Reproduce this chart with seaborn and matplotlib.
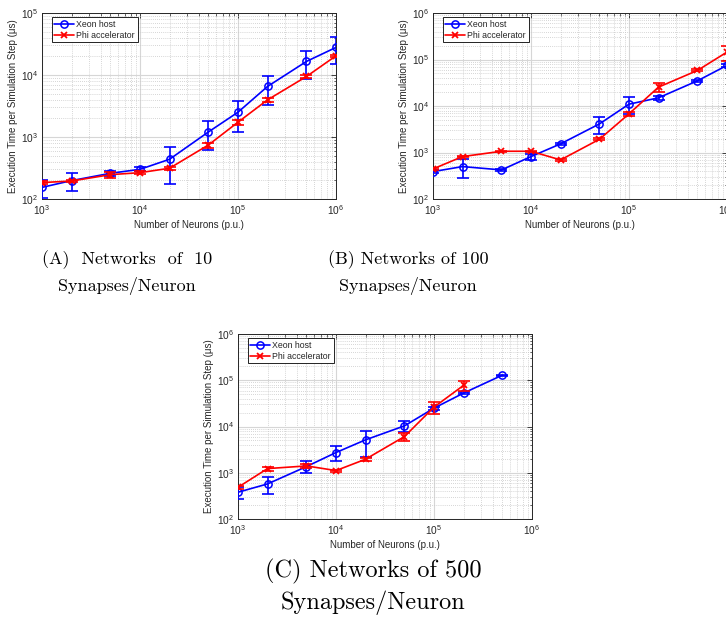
import numpy as np
import pandas as pd
import matplotlib
matplotlib.use("Agg")
import matplotlib.pyplot as plt
import seaborn as sns
from matplotlib.ticker import LogLocator, LogFormatterSciNotation, NullFormatter

# ---------------- data ----------------
neurons = [1e3, 2e3, 5e3, 1e4, 2e4, 5e4, 1e5, 2e5, 5e5, 1e6]

# (A) 10 synapses/neuron
a_xeon = [154, 198, 260, 301, 437, 1208, 2512, 6530, 16560, 27860]
a_xeon_err = [50, 65, 25, 22, 260, 600, 1310, 3200, 7800, 12800]
a_phi = [184, 195, 247, 266, 313, 745, 1733, 3970, 9460, 20400]
a_phi_err = [12, 10, 25, 12, 15, 70, 180, 350, 500, 600]

# (B) 100 synapses/neuron
b_xeon = [388, 498, 422, 817, 1531, 4130, 10950, 14990, 34860, 74700]
b_xeon_err = [30, 215, 30, 110, 80, 1650, 4300, 1200, 2000, 5000]
b_phi = [443, 817, 1064, 1064, 692, 1928, 6780, 25470, 58200, 144500]
b_phi_err = [20, 30, 40, 40, 20, 80, 600, 5000, 3000, 50000]

# (C) 500 synapses/neuron
c_neurons_xeon = [1e3, 2e3, 5e3, 1e4, 2e4, 5e4, 1e5, 2e5, 5e5]
c_xeon = [379, 573, 1361, 2737, 5145, 10330, 24950, 52700, 129300]
c_xeon_err = [107, 220, 390, 970, 2900, 2700, 2000, 3000, 3000]
c_neurons_phi = [1e3, 2e3, 5e3, 1e4, 2e4, 5e4, 1e5, 2e5]
c_phi = [485, 1230, 1405, 1114, 1959, 6070, 26250, 77300]
c_phi_err = [30, 130, 150, 50, 120, 1300, 8000, 19000]

series_names = ["Xeon host", "Phi accelerator"]
captions = [("(A)  Networks  of  10", "Synapses/Neuron"),
            ("(B) Networks of 100", "Synapses/Neuron"),
            ("(C) Networks of 500", "Synapses/Neuron")]
xlabel = "Number of Neurons (p.u.)"
ylabel = "Execution Time per Simulation Step (\u03bcs)"

# ---------------- style ----------------
sns.set_style("white")
plt.rcParams["font.family"] = ["Liberation Sans", "DejaVu Sans"]
plt.rcParams["mathtext.fontset"] = "custom"
plt.rcParams["mathtext.rm"] = "Liberation Sans"
plt.rcParams["mathtext.it"] = "Liberation Sans:italic"
plt.rcParams["mathtext.bf"] = "Liberation Sans:bold"

DARK = "#262626"
BLUE = "#0000ff"
RED = "#ff0000"

fig = plt.figure(figsize=(7.26, 6.17), dpi=100)
W, H = 726.0, 617.0

def ax_rect(left, top, right, bottom):
    return [left / W, 1 - bottom / H, (right - left) / W, (bottom - top) / H]

axA = fig.add_axes(ax_rect(42, 13, 336, 199))
axB = fig.add_axes(ax_rect(433, 13, 727, 199))
axC = fig.add_axes(ax_rect(238, 334, 532, 519))


def draw(ax, xx, yx, ex, xp, yp, ep, ylim):
    dfx = pd.DataFrame({"n": xx, "t": yx})
    dfp = pd.DataFrame({"n": xp, "t": yp})
    ax.errorbar(xx, yx, yerr=ex, fmt="none", ecolor=BLUE, elinewidth=1.2,
                capsize=4.2, capthick=1.2, zorder=3)
    sns.lineplot(data=dfx, x="n", y="t", ax=ax, color=BLUE, lw=1.2,
                 marker="o", markersize=5.2, markerfacecolor="none",
                 markeredgecolor=BLUE, markeredgewidth=1.1,
                 label=series_names[0], zorder=4)
    ax.errorbar(xp, yp, yerr=ep, fmt="none", ecolor=RED, elinewidth=1.2,
                capsize=4.2, capthick=1.2, zorder=5)
    sns.lineplot(data=dfp, x="n", y="t", ax=ax, color=RED, lw=1.2,
                 marker="x", markersize=5, markeredgewidth=1.3,
                 markeredgecolor=RED, label=series_names[1], zorder=6)
    ax.set_xscale("log")
    ax.set_yscale("log")
    ax.set_xlim(1e3, 1e6)
    ax.set_ylim(*ylim)
    for axis in (ax.xaxis, ax.yaxis):
        axis.set_major_locator(LogLocator(base=10, numticks=20))
        axis.set_minor_locator(LogLocator(base=10, subs=np.arange(2, 10), numticks=20))
        axis.set_minor_formatter(NullFormatter())
        axis.set_major_formatter(LogFormatterSciNotation())
    ax.grid(True, which="major", color="#d6d6d6", lw=0.8, ls="-", zorder=0)
    ax.grid(True, which="minor", color="#c8c8c8", lw=0.6, ls=(0, (1, 1.5)), zorder=0)
    ax.set_axisbelow(True)
    ax.tick_params(which="both", direction="in", top=True, right=True,
                   colors=DARK, labelsize=7.3, labelcolor=DARK)
    ax.tick_params(which="major", length=3.5, width=0.6, pad=3)
    ax.tick_params(which="minor", length=1.8, width=0.5)
    for s in ax.spines.values():
        s.set_color(DARK)
        s.set_linewidth(0.7)
    ax.set_xlabel(xlabel, fontsize=7, color=DARK, labelpad=2)
    ax.set_ylabel(ylabel, fontsize=7, color=DARK, labelpad=2)
    leg = ax.legend(loc="upper left", fontsize=6.3, frameon=True, fancybox=False,
                    edgecolor="black", framealpha=1, handlelength=2.2,
                    handletextpad=0.3, borderpad=0.3, labelspacing=0.25,
                    borderaxespad=0.45, bbox_to_anchor=(0.02, 1.0))
    leg.get_frame().set_linewidth(0.6)


draw(axA, neurons, a_xeon, a_xeon_err, neurons, a_phi, a_phi_err, (1e2, 1e5))
draw(axB, neurons, b_xeon, b_xeon_err, neurons, b_phi, b_phi_err, (1e2, 1e6))
draw(axC, c_neurons_xeon, c_xeon, c_xeon_err, c_neurons_phi, c_phi, c_phi_err, (1e2, 1e6))

cap_kw = dict(fontfamily="cmr10", ha="center", va="center", color="black")
for (l1, l2), cx, y1, y2, fs in [(captions[0], 127, 260, 286, 13),
                                  (captions[1], 408, 260, 286, 13),
                                  (captions[2], 373, 571, 603, 17.5)]:
    fig.text(cx / W, 1 - y1 / H, l1, fontsize=fs, **cap_kw)
    fig.text(cx / W, 1 - y2 / H, l2, fontsize=fs, **cap_kw)

fig.savefig("out.png", dpi=100)
